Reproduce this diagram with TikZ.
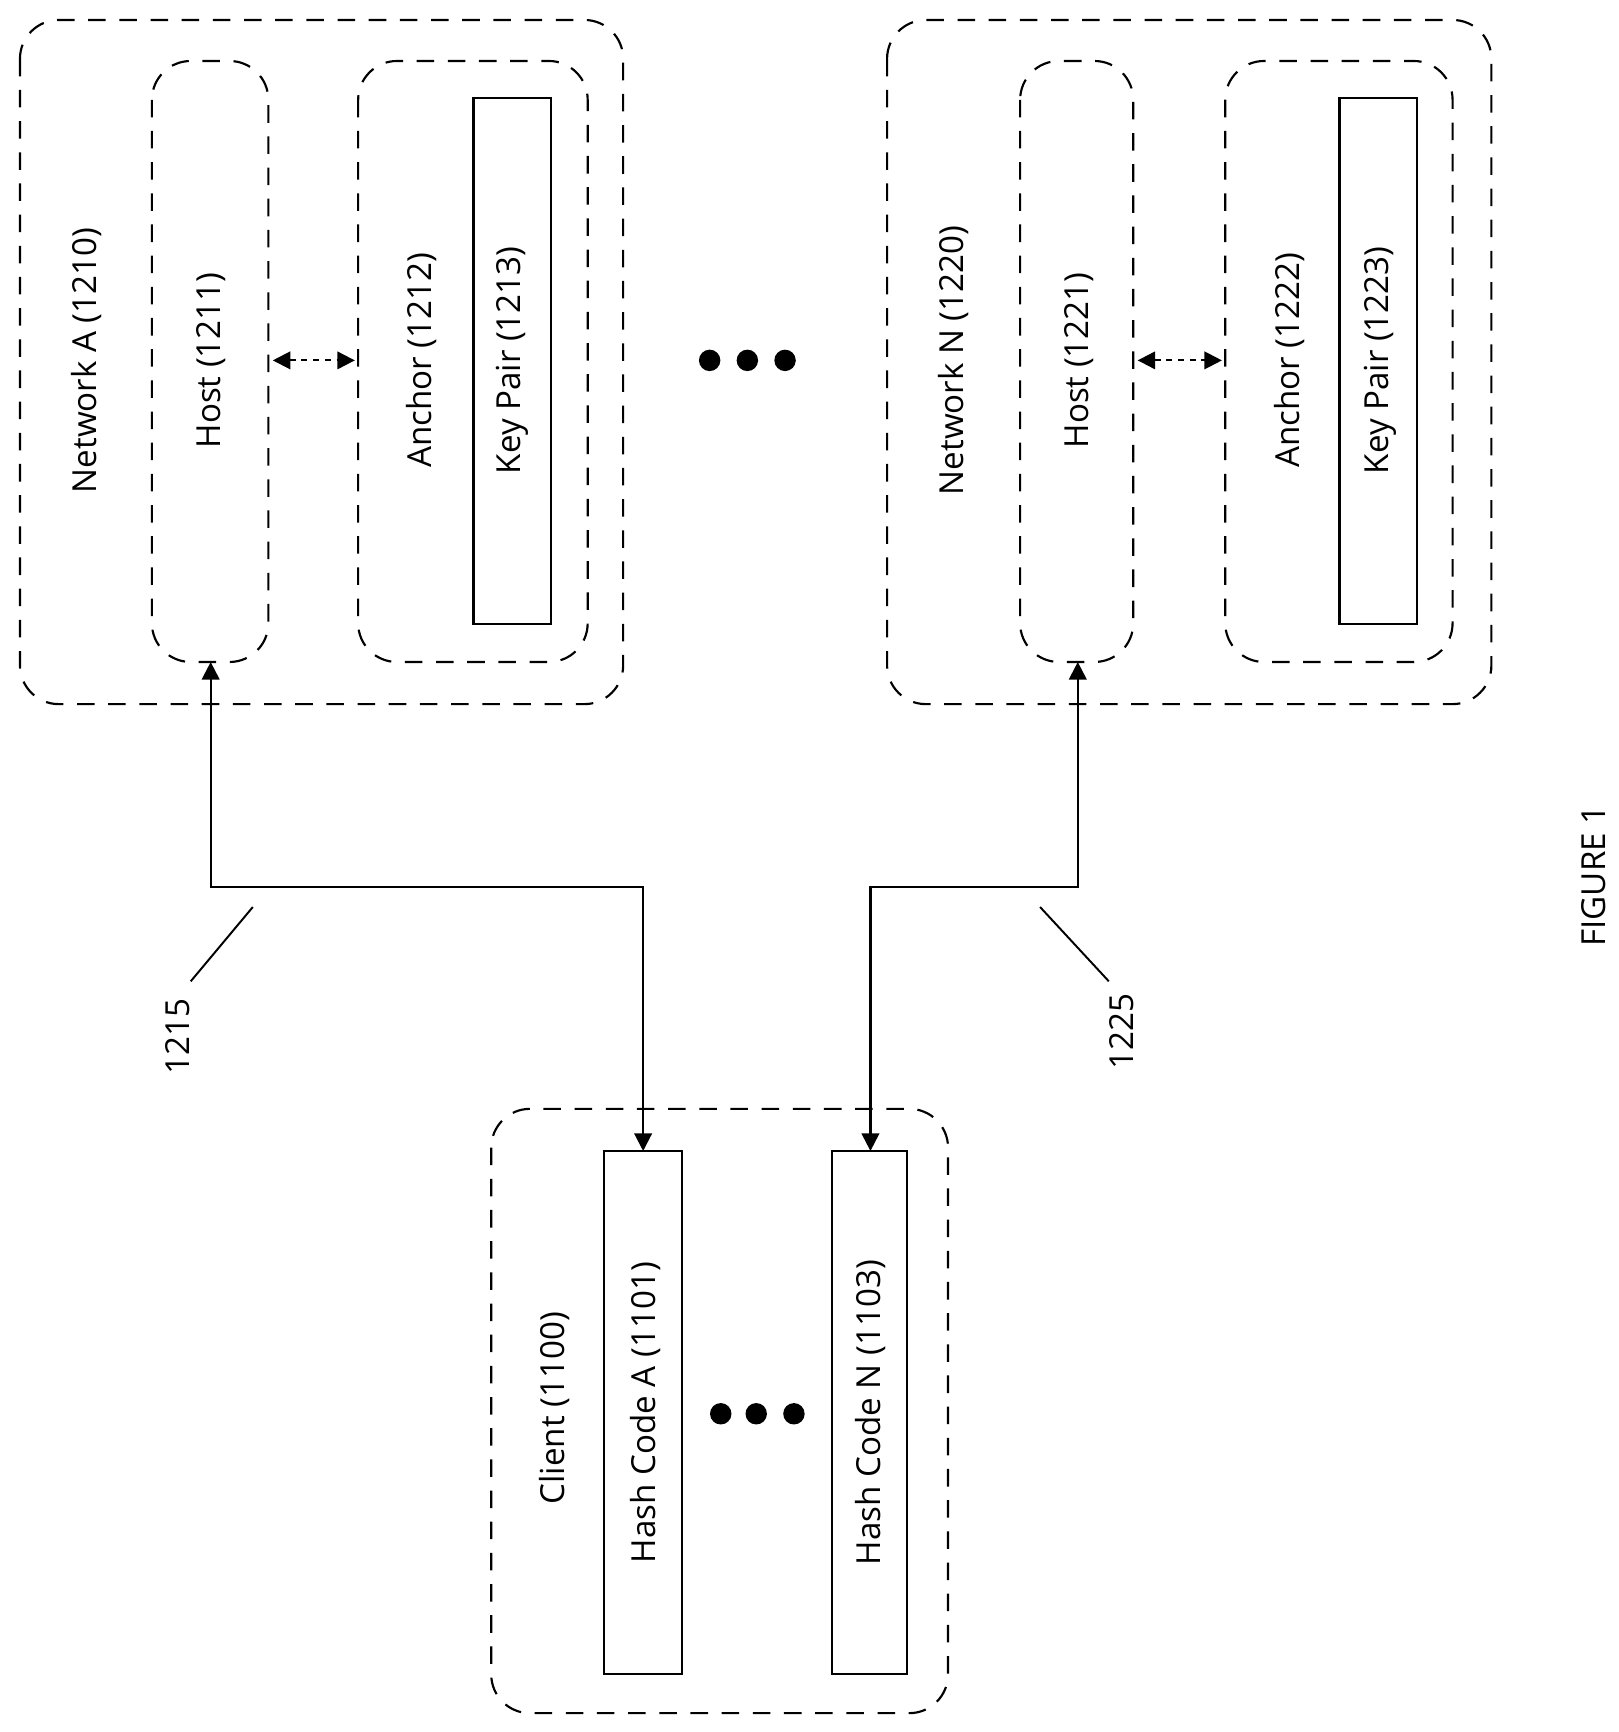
\documentclass[tikz,border=0pt]{standalone}
\usepackage{fontspec}
\setmainfont{Open Sans}
\usetikzlibrary{arrows.meta}
\begin{document}
\begin{tikzpicture}[x=0.02cm,y=-0.02cm,
 box/.style={draw,dashed,dash pattern=on 9pt off 7pt,rounded corners=0.7cm,line width=1.1pt},
 rect/.style={draw,line width=1.1pt},
 lab/.style={rotate=90,font=\fontsize{17}{20}\selectfont},
 conn/.style={line width=1.1pt,{Triangle[length=9pt,width=9pt]}-{Triangle[length=9pt,width=9pt]}},
 dot/.style={fill=black,circle,inner sep=0pt,minimum size=11pt}]
\useasboundingbox (0,0) rectangle (1460,1562);
% Network A
\draw[box] (18,18) rectangle (562,635);
\draw[box] (137,55) rectangle (242,597);
\draw[box] (323,55) rectangle (530,597);
\draw[rect] (427,88) rectangle (497,563);
\node[lab] (na) at (78,325) {Network A (1210)};
\node[lab] (ha) at (190,325) {Host (1211)};
\node[lab] (aa) at (380,325) {Anchor (1212)};
\node[lab] (ka) at (462,325) {Key Pair (1213)};
\coordinate (ha1) at (246,325); \coordinate (aa1) at (320,325);
\draw[conn,dashed] (ha1) -- (aa1);
% dots
\node[dot] (d1) at (640,325) {}; \node[dot] (d2) at (674,325) {}; \node[dot] (d3) at (708,325) {};
% Network N
\draw[box] (800,18) rectangle (1345,635);
\draw[box] (920,55) rectangle (1022,597);
\draw[box] (1105,55) rectangle (1310,597);
\draw[rect] (1208,88) rectangle (1278,563);
\node[lab] (nn) at (860,325) {Network N (1220)};
\node[lab] (hn) at (973,325) {Host (1221)};
\node[lab] (an) at (1163,325) {Anchor (1222)};
\node[lab] (kn) at (1245,325) {Key Pair (1223)};
\coordinate (hn1) at (1026,325); \coordinate (an1) at (1102,325);
\draw[conn,dashed] (hn1) -- (an1);
% Client
\draw[box] (443,1000) rectangle (855,1545);
\draw[rect] (545,1038) rectangle (615,1510);
\draw[rect] (750,1038) rectangle (818,1510);
\node[lab] (cl) at (500,1270) {Client (1100)};
\node[lab] (hca) at (582,1274) {Hash Code A (1101)};
\node[lab] (hcn) at (785,1274) {Hash Code N (1103)};
\node[dot] (e1) at (650,1275) {}; \node[dot] (e2) at (682,1275) {}; \node[dot] (e3) at (716,1275) {};
% connectors
\coordinate (pa) at (190,597); \coordinate (ca) at (580,1038);
\coordinate (pn) at (972,597); \coordinate (cn) at (785,1038);
\draw[conn] (pa) -- (190,800) -- (580,800) -- (ca);
\draw[conn] (pn) -- (972,800) -- (785,800) -- (cn);
\node[lab] (l1) at (160,935) {1215};
\node[lab] (l2) at (1012,930) {1225};
\coordinate (a1) at (172,885); \coordinate (b1) at (228,818);
\coordinate (a2) at (1000,885); \coordinate (b2) at (938,818);
\draw[line width=1pt] (a1) -- (b1);
\draw[line width=1pt] (a2) -- (b2);
\node[lab] (fig) at (1437,790) {FIGURE 1};
\end{tikzpicture}
\end{document}
